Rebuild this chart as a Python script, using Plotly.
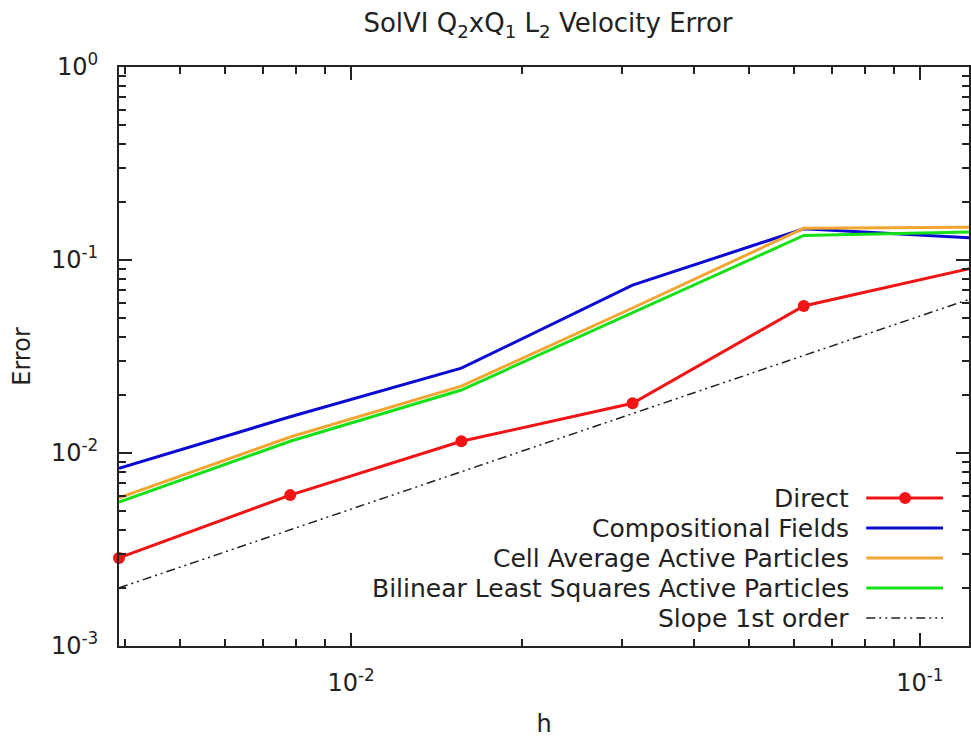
import numpy as np
import plotly.graph_objects as go

# Mesh size and L2 velocity errors
h = [1 / 256, 1 / 128, 1 / 64, 1 / 32, 1 / 16, 1 / 8]
direct = [0.00286, 0.00605, 0.0115, 0.0181, 0.0578, 0.0915]
compositional = [0.00834, 0.0154, 0.0275, 0.0741, 0.145, 0.130]
cell_average = [0.00585, 0.0121, 0.0222, 0.0564, 0.146, 0.148]
bilinear = [0.00557, 0.0115, 0.0212, 0.0531, 0.134, 0.140]
slope_first = [0.002, 0.004, 0.008, 0.016, 0.032, 0.064]

names = ["Direct", "Compositional Fields", "Cell Average Active Particles",
         "Bilinear Least Squares Active Particles", "Slope 1st order"]

y_ticks = [1e-3, 1e-2, 1e-1, 1]
y_ticktext = ["10<sup>-3</sup>", "10<sup>-2</sup>", "10<sup>-1</sup>", "10<sup>0</sup>"]
x_ticks = [1e-2, 1e-1]
x_ticktext = ["10<sup>-2</sup>", "10<sup>-1</sup>"]

W, H = 971, 738
L, R, T, B = 119, 0, 67, 92
FONT = "DejaVu Sans"
INK = "#222222"

colors = ["#f01414", "#0a0ad2", "#f2a533", "#16e016", "#222222"]
series = [direct, compositional, cell_average, bilinear, slope_first]
DASH = "9px,4px,2px,4px,2px,4px"

fig = go.Figure()
# comparison curves first, Direct last so it sits on top
for i in [1, 2, 3, 4, 0]:
    name, ys = names[i], series[i]
    if i == 0:
        fig.add_trace(go.Scatter(x=h, y=ys, name=name, mode="lines+markers",
                                 line=dict(color=colors[i], width=3),
                                 marker=dict(size=12, color=colors[i]),
                                 cliponaxis=False, showlegend=False))
    elif i == 4:
        fig.add_trace(go.Scatter(x=h, y=ys, name=name, mode="lines",
                                 line=dict(color=colors[i], width=1.5, dash=DASH),
                                 showlegend=False))
    else:
        fig.add_trace(go.Scatter(x=h, y=ys, name=name, mode="lines",
                                 line=dict(color=colors[i], width=3),
                                 showlegend=False))

def minor_vals(lo, hi):
    return [k * 10.0 ** e for e in range(lo, hi) for k in range(2, 10)]

axis_common = dict(type="log", showgrid=False, zeroline=False, showline=True,
                   linecolor=INK, linewidth=2, mirror="ticks", ticks="inside",
                   ticklen=13, tickwidth=1.5, tickcolor=INK,
                   tickfont=dict(family=FONT, size=24, color=INK))

pw = W - L - R
ph = H - T - B
def px(x):
    return (x - L) / pw
def py(y):
    return (H - B - y) / ph

fig.update_xaxes(**axis_common,
                 range=[np.log10(1 / 256), np.log10(1 / 256) + pw / 570.0],
                 tickmode="array", tickvals=x_ticks, ticktext=x_ticktext,
                 ticklabelstandoff=14,
                 minor=dict(ticks="inside", ticklen=7, tickwidth=1.5, tickcolor=INK,
                            tickmode="array", tickvals=minor_vals(-3, 0), showgrid=False),
                 title=dict(text="h", font=dict(family=FONT, size=24, color=INK), standoff=24))
fig.update_yaxes(**axis_common, range=[-3, 0],
                 tickmode="array", tickvals=y_ticks, ticktext=y_ticktext,
                 ticklabelstandoff=14,
                 minor=dict(ticks="inside", ticklen=7, tickwidth=1.5, tickcolor=INK,
                            tickmode="array", tickvals=minor_vals(-3, 0), showgrid=False),
                 title=dict(text="Error", font=dict(family=FONT, size=24, color=INK), standoff=14))

# key: right-aligned labels with line samples on their right
row_y = [498, 528, 558, 588, 618]
text_right = 853
seg = (868, 945)
annotations = []
shapes = []
for i, name in enumerate(names):
    annotations.append(dict(x=px(text_right), y=py(row_y[i]), xref="paper", yref="paper",
                            text=name, showarrow=False, xanchor="right", yanchor="middle",
                            font=dict(family=FONT, size=25, color=INK)))
    dash = DASH if i == 4 else "solid"
    width = 1.5 if i == 4 else 3
    shapes.append(dict(type="line", xref="paper", yref="paper",
                       x0=px(seg[0]), x1=px(seg[1]), y0=py(row_y[i]), y1=py(row_y[i]),
                       line=dict(color=colors[i], width=width, dash=dash)))
cx = 907
shapes.append(dict(type="circle", xref="paper", yref="paper",
                   x0=px(cx - 6), x1=px(cx + 6), y0=py(row_y[0] + 6), y1=py(row_y[0] - 6),
                   fillcolor=colors[0], line=dict(color=colors[0], width=0)))

fig.update_layout(
    width=W, height=H,
    margin=dict(l=L, r=R, t=T, b=B),
    paper_bgcolor="white", plot_bgcolor="white",
    title=dict(text="SolVI Q<sub>2</sub>xQ<sub>1</sub> L<sub>2</sub> Velocity Error",
               x=(L + 977) / 2 / W, xanchor="center", y=1 - 23 / H, yanchor="middle",
               font=dict(family=FONT, size=26, color=INK)),
    annotations=annotations, shapes=shapes,
    showlegend=False,
)

fig.write_html("out.html")
